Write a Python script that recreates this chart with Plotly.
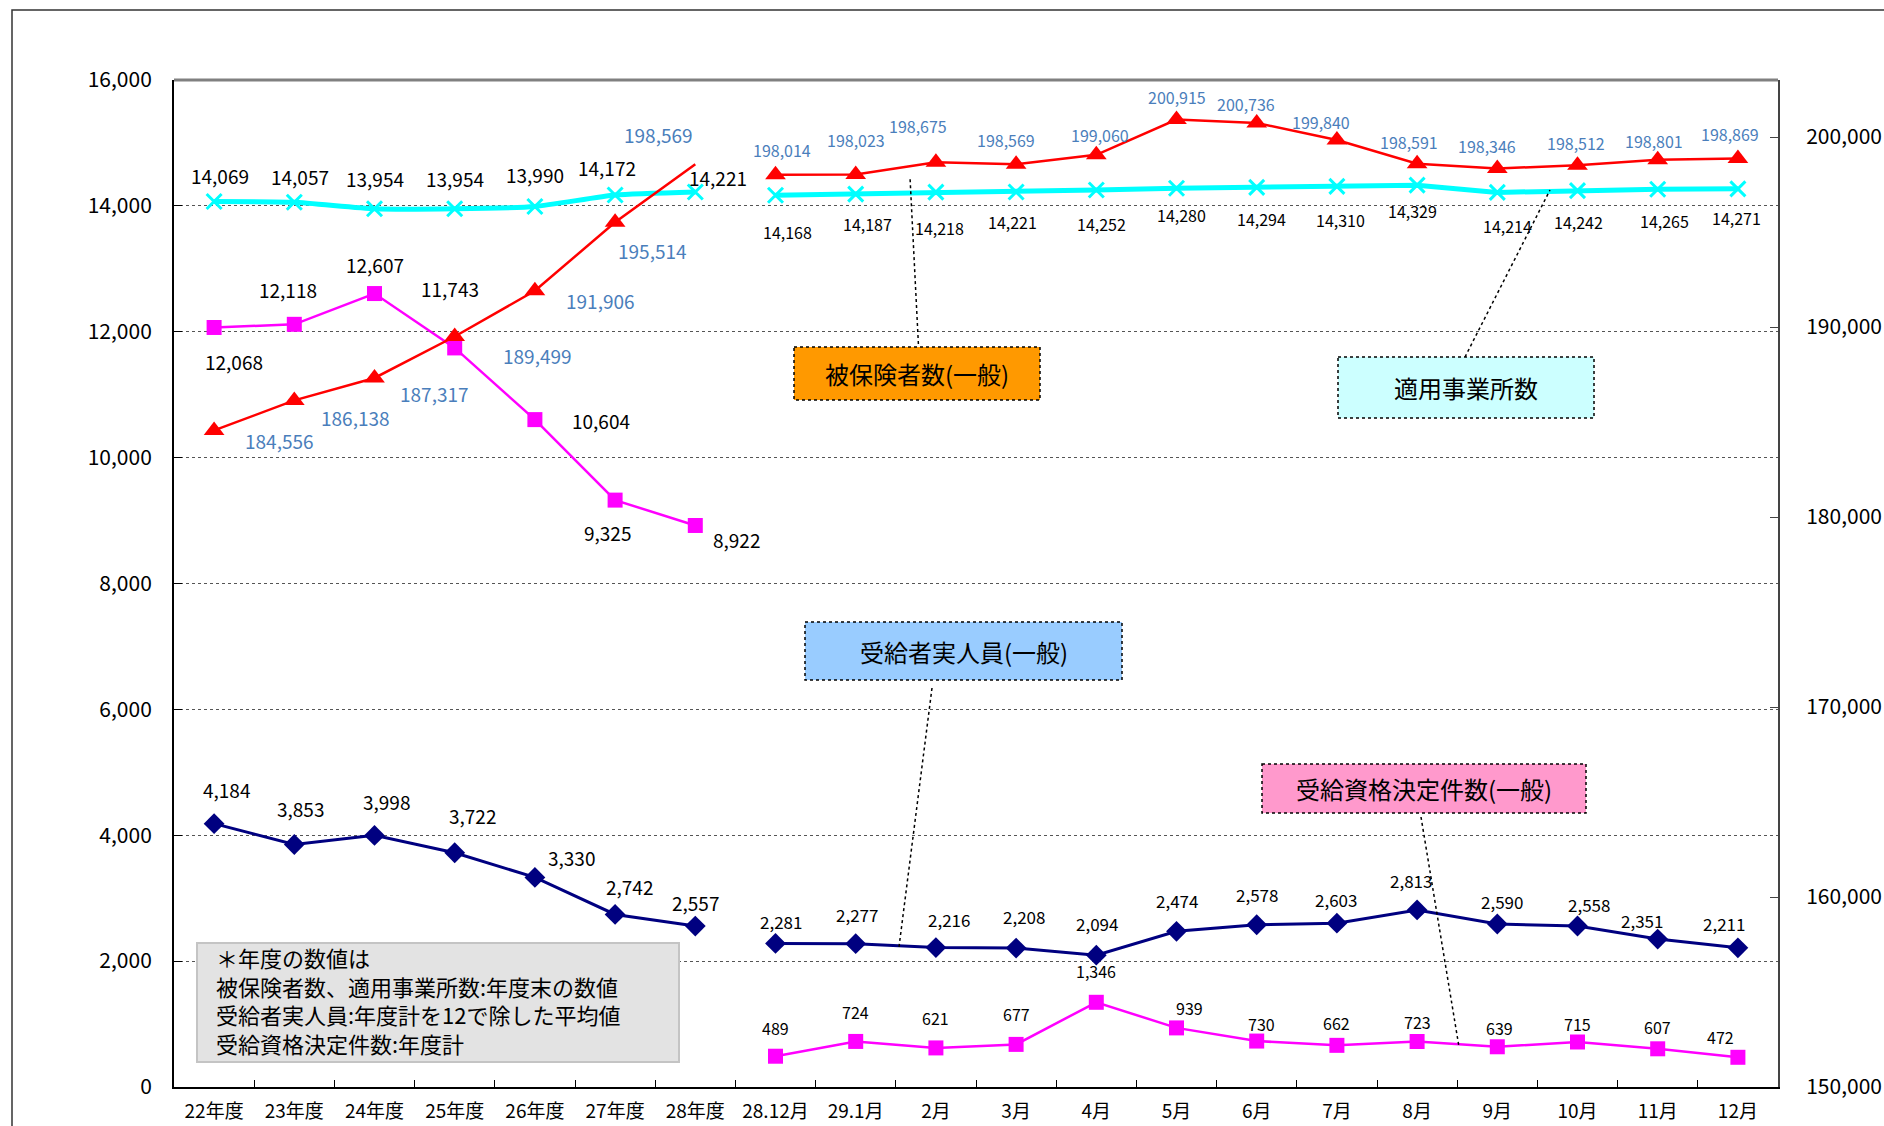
import plotly.graph_objects as go

# ---------------- data ----------------
categories = ["22年度", "23年度", "24年度", "25年度", "26年度", "27年度", "28年度",
              "28.12月", "29.1月", "2月", "3月", "4月", "5月", "6月", "7月", "8月",
              "9月", "10月", "11月", "12月"]
year_cats = categories[:7]
month_cats = categories[7:]

insured_year = [184556, 186138, 187317, 189499, 191906, 195514, 198569]
insured_month = [198014, 198023, 198675, 198569, 199060, 200915, 200736, 199840,
                 198591, 198346, 198512, 198801, 198869]
offices_year = [14069, 14057, 13954, 13954, 13990, 14172, 14221]
offices_month = [14168, 14187, 14218, 14221, 14252, 14280, 14294, 14310, 14329,
                 14214, 14242, 14265, 14271]
recipients_year = [4184, 3853, 3998, 3722, 3330, 2742, 2557]
recipients_month = [2281, 2277, 2216, 2208, 2094, 2474, 2578, 2603, 2813, 2590,
                    2558, 2351, 2211]
decisions_year = [12068, 12118, 12607, 11743, 10604, 9325, 8922]
decisions_month = [489, 724, 621, 677, 1346, 939, 730, 662, 723, 639, 715, 607, 472]

left_ticks = list(range(0, 16001, 2000))
right_ticks = list(range(150000, 200001, 10000))

# ---------------- label offsets (pixels, dx right, dy down) ----------------
off_offices_y = [(6, -26), (6, -26), (0, -30), (0, -30), (0, -32), (-8, -28), (23, -14)]
off_offices_m = [(12, 37), (12, 30), (4, 36), (-4, 30), (5, 34), (5, 27), (5, 32),
                 (4, 34), (-5, 26), (10, 34), (1, 31), (7, 32), (-1, 29)]
off_insured_y = [(65, 10), (61, 17), (60, 16), (83, 19), (66, 10), (37, 28), (-37, -30)]
off_insured_m = [(6, -25), (0, -35), (-18, -36), (-10, -24), (4, -20), (0, -23), (-11, -19),
                 (-16, -18), (-8, -22), (-10, -22), (-2, -22), (-4, -19), (-8, -24)]
off_dec_y = [(20, 34), (-6, -35), (0, -29), (-5, -59), (66, 1), (-8, 32), (41, 14)]
off_dec_m = [(0, -28), (0, -29), (0, -30), (0, -30), (0, -31), (13, -20), (5, -17),
             (0, -22), (0, -20), (2, -19), (0, -18), (0, -22), (-17, -20)]
off_rec_y = [(12, -34), (6, -36), (12, -34), (18, -37), (37, -20), (14, -28), (0, -24)]
off_rec_m = [(5, -22), (1, -29), (13, -28), (8, -32), (1, -32), (0, -31), (0, -30),
             (-1, -24), (-6, -29), (5, -22), (11, -22), (-16, -19), (-14, -24)]

FONT = "Noto Sans CJK JP"
W, H = 1884, 1126
L, R, T, B = 174, 1778, 80, 1087
PW, PH = R - L, B - T


def px(x):
    return (x - L) / PW


def py(y):
    return (B - y) / PH


CYAN = "#00FFFF"
RED = "#FF0000"
NAVY = "#000080"
MAG = "#FF00FF"
BLUE_TXT = "#4A7EBB"
CLEAR = "rgba(0,0,0,0)"

fig = go.Figure()

# offices (cyan)
fig.add_trace(go.Scatter(x=year_cats, y=offices_year, mode="lines+markers",
                         line=dict(color=CYAN, width=5, shape="spline", smoothing=0.5),
                         marker=dict(symbol="x-thin", size=15,
                                     line=dict(color=CYAN, width=3), color=CYAN),
                         showlegend=False, hoverinfo="skip"))
fig.add_trace(go.Scatter(x=month_cats, y=offices_month, mode="lines+markers",
                         line=dict(color=CYAN, width=5),
                         marker=dict(symbol="x-thin", size=15,
                                     line=dict(color=CYAN, width=3), color=CYAN),
                         showlegend=False, hoverinfo="skip"))
# decisions (magenta)
fig.add_trace(go.Scatter(x=year_cats, y=decisions_year, mode="lines+markers",
                         line=dict(color=MAG, width=2.5),
                         marker=dict(symbol="square", size=15, color=MAG),
                         showlegend=False, hoverinfo="skip"))
fig.add_trace(go.Scatter(x=month_cats, y=decisions_month, mode="lines+markers",
                         line=dict(color=MAG, width=2.5),
                         marker=dict(symbol="square", size=15, color=MAG),
                         showlegend=False, hoverinfo="skip"))
# recipients (navy)
fig.add_trace(go.Scatter(x=year_cats, y=recipients_year, mode="lines+markers",
                         line=dict(color=NAVY, width=3),
                         marker=dict(symbol="diamond", size=16, color=NAVY),
                         showlegend=False, hoverinfo="skip"))
fig.add_trace(go.Scatter(x=month_cats, y=recipients_month, mode="lines+markers",
                         line=dict(color=NAVY, width=3),
                         marker=dict(symbol="diamond", size=16, color=NAVY),
                         showlegend=False, hoverinfo="skip"))
# insured (red, right axis)
fig.add_trace(go.Scatter(x=year_cats, y=insured_year, mode="lines+markers", yaxis="y2",
                         line=dict(color=RED, width=2.5),
                         marker=dict(symbol="triangle-up", size=18,
                                     color=[RED] * 6 + [CLEAR]),
                         showlegend=False, hoverinfo="skip"))
fig.add_trace(go.Scatter(x=month_cats, y=insured_month, mode="lines+markers", yaxis="y2",
                         line=dict(color=RED, width=2.5),
                         marker=dict(symbol="triangle-up", size=18, color=RED),
                         showlegend=False, hoverinfo="skip"))

annotations = []


def add_labels(xs, ys, offs, yref, color, size):
    for x, y, (dx, dy) in zip(xs, ys, offs):
        annotations.append(dict(x=x, y=y, xref="x", yref=yref, text=f"{y:,}",
                                showarrow=False, xshift=dx, yshift=-dy,
                                xanchor="center", yanchor="middle",
                                font=dict(family=FONT, size=size, color=color)))


add_labels(year_cats, offices_year, off_offices_y, "y", "black", 19)
add_labels(month_cats, offices_month, off_offices_m, "y", "black", 16)
add_labels(year_cats, insured_year, off_insured_y, "y2", BLUE_TXT, 19)
add_labels(month_cats, insured_month, off_insured_m, "y2", BLUE_TXT, 16)
add_labels(year_cats, decisions_year, off_dec_y, "y", "black", 19)
add_labels(month_cats, decisions_month, off_dec_m, "y", "black", 16)
add_labels(year_cats, recipients_year, off_rec_y, "y", "black", 19)
add_labels(month_cats, recipients_month, off_rec_m, "y", "black", 17)

shapes = []
# outer border
shapes.append(dict(type="rect", xref="paper", yref="paper", x0=px(12), y0=py(10),
                   x1=px(1960), y1=py(1200), line=dict(color="#333333", width=1.5),
                   fillcolor="rgba(0,0,0,0)", layer="below"))
# plot top border
shapes.append(dict(type="line", xref="paper", yref="paper", x0=0, x1=1, y0=1, y1=1,
                   line=dict(color="#808080", width=3)))

# callout boxes
boxes = [
    ("被保険者数(一般)", (794, 347, 1040, 400), "#FF9900", (919, 356, 910, 177)),
    ("適用事業所数", (1338, 357, 1594, 418), "#CCFFFF", (1465, 357, 1550, 190)),
    ("受給者実人員(一般)", (805, 622, 1122, 680), "#99CCFF", (932, 688, 899, 947)),
    ("受給資格決定件数(一般)", (1262, 764, 1586, 813), "#FF99CC", (1421, 817, 1459, 1047)),
]
for text, (x0, y0, x1, y1), col, (lx0, ly0, lx1, ly1) in boxes:
    shapes.append(dict(type="line", xref="paper", yref="paper", x0=px(lx0), y0=py(ly0),
                       x1=px(lx1), y1=py(ly1), line=dict(color="black", width=1.5, dash="dot")))
    shapes.append(dict(type="rect", xref="paper", yref="paper", x0=px(x0), y0=py(y0),
                       x1=px(x1), y1=py(y1), fillcolor=col,
                       line=dict(color="black", width=1.5, dash="dot")))
    annotations.append(dict(x=px((x0 + x1) / 2), y=py((y0 + y1) / 2), xref="paper",
                            yref="paper", text=text, showarrow=False,
                            xanchor="center", yanchor="middle",
                            font=dict(family=FONT, size=24, color="black")))

# note box
shapes.append(dict(type="rect", xref="paper", yref="paper", x0=px(197), y0=py(943),
                   x1=px(679), y1=py(1062), fillcolor="#E3E3E3",
                   line=dict(color="#C4C4C4", width=2)))
note_lines = ["＊年度の数値は",
              "被保険者数、適用事業所数:年度末の数値",
              "受給者実人員:年度計を12で除した平均値",
              "受給資格決定件数:年度計"]
annotations.append(dict(x=px(214), y=py(1000), xref="paper", yref="paper",
                        xanchor="left", yanchor="middle", align="left",
                        text="<br>".join(note_lines), showarrow=False,
                        font=dict(family=FONT, size=22, color="black")))

fig.update_layout(
    width=W, height=H,
    margin=dict(l=L, r=W - R, t=T, b=H - B, pad=0, autoexpand=False),
    paper_bgcolor="white", plot_bgcolor="white",
    font=dict(family=FONT, color="black"),
    showlegend=False,
    xaxis=dict(type="category", categoryorder="array", categoryarray=categories,
               range=[-0.5, 19.5], showline=True, linecolor="black", linewidth=2,
               ticks="inside", tickson="boundaries", ticklen=7, tickcolor="black",
               tickwidth=1, showgrid=False, tickfont=dict(family=FONT, size=19),
               ticklabelstandoff=6, automargin=False),
    yaxis=dict(range=[0, 16000], tickvals=left_ticks, tickformat=",",
               showline=True, linecolor="black", linewidth=2,
               ticks="inside", ticklen=8, tickcolor="black",
               showgrid=True, gridcolor="#555555", griddash="dot", gridwidth=1,
               zeroline=False, tickfont=dict(family=FONT, size=21),
               ticklabelstandoff=16, automargin=False),
    yaxis2=dict(range=[150000, 203000], tickvals=right_ticks, tickformat=",",
                overlaying="y", side="right", showline=True, linecolor="#444444",
                linewidth=2, ticks="inside", ticklen=8, tickcolor="#444444",
                showgrid=False, zeroline=False, tickfont=dict(family=FONT, size=21),
                ticklabelstandoff=22, automargin=False),
    shapes=shapes,
    annotations=annotations,
)

fig.write_html("out.html", config={"displayModeBar": False},
               post_script="document.body.style.margin='0';document.body.style.overflow='hidden';")
